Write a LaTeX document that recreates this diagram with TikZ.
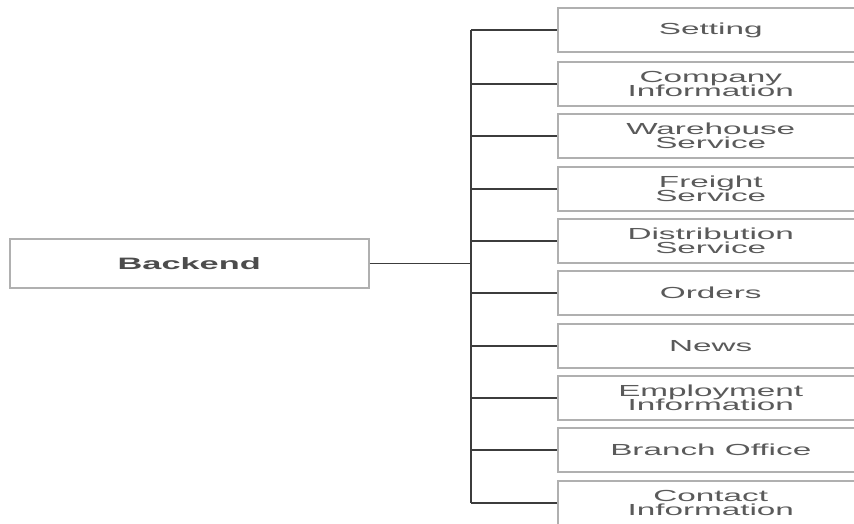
\documentclass[tikz,border=0pt]{standalone}
\usepackage{fontspec}
\setmainfont{Liberation Sans}[FakeStretch=2.08]
\definecolor{boxgray}{HTML}{B0B0B0}
\definecolor{txtgray}{HTML}{5A5A5A}
\definecolor{linegray}{HTML}{3C3C3C}
\begin{document}
\begin{tikzpicture}[x=1pt,y=-1pt,
  itembox/.style={draw=boxgray, line width=1.5pt, fill=white, minimum width=306pt,
    minimum height=44pt, inner sep=0pt, text=txtgray, align=center, anchor=west,
    font={\fontsize{16}{14.5}\selectfont\lineskiplimit=-100pt}},
  rootbox/.style={draw=boxgray, line width=1.5pt, fill=white, minimum width=359pt,
    minimum height=49pt, inner sep=0pt, text=txtgray!85!black, anchor=west,
    font={\fontsize{16.5}{12.5}\selectfont\bfseries}},
  branch/.style={draw=linegray, line width=1.3pt},
  trunkline/.style={draw=linegray, line width=2.4pt}
]
\useasboundingbox (0,0) rectangle (854,524);
\clip (0,0) rectangle (854,524);

\node[rootbox] (backend) at (9,263.5) {Backend};

\coordinate (ttop) at (471,30);
\coordinate (tbot) at (471,503);
\coordinate (tmid) at (471,263.5);

\node[itembox] (n0) at (557,30)    {Setting};
\node[itembox] (n1) at (557,84)    {Company\\Information};
\node[itembox] (n2) at (557,136)   {Warehouse\\Service};
\node[itembox] (n3) at (557,189)   {Freight\\Service};
\node[itembox] (n4) at (557,241)   {Distribution\\Service};
\node[itembox] (n5) at (557,293)   {Orders};
\node[itembox] (n6) at (557,346)   {News};
\node[itembox] (n7) at (557,398)   {Employment\\Information};
\node[itembox] (n8) at (557,450)   {Branch Office};
\node[itembox] (n9) at (557,503)   {Contact\\Information};

\draw[branch] (backend.east) -- (tmid);
\foreach \i in {0,...,9} {
  \draw[branch] (n\i.west) -- (n\i.west -| ttop);
}
\draw[trunkline] (ttop) -- (tbot);
\end{tikzpicture}
\end{document}
